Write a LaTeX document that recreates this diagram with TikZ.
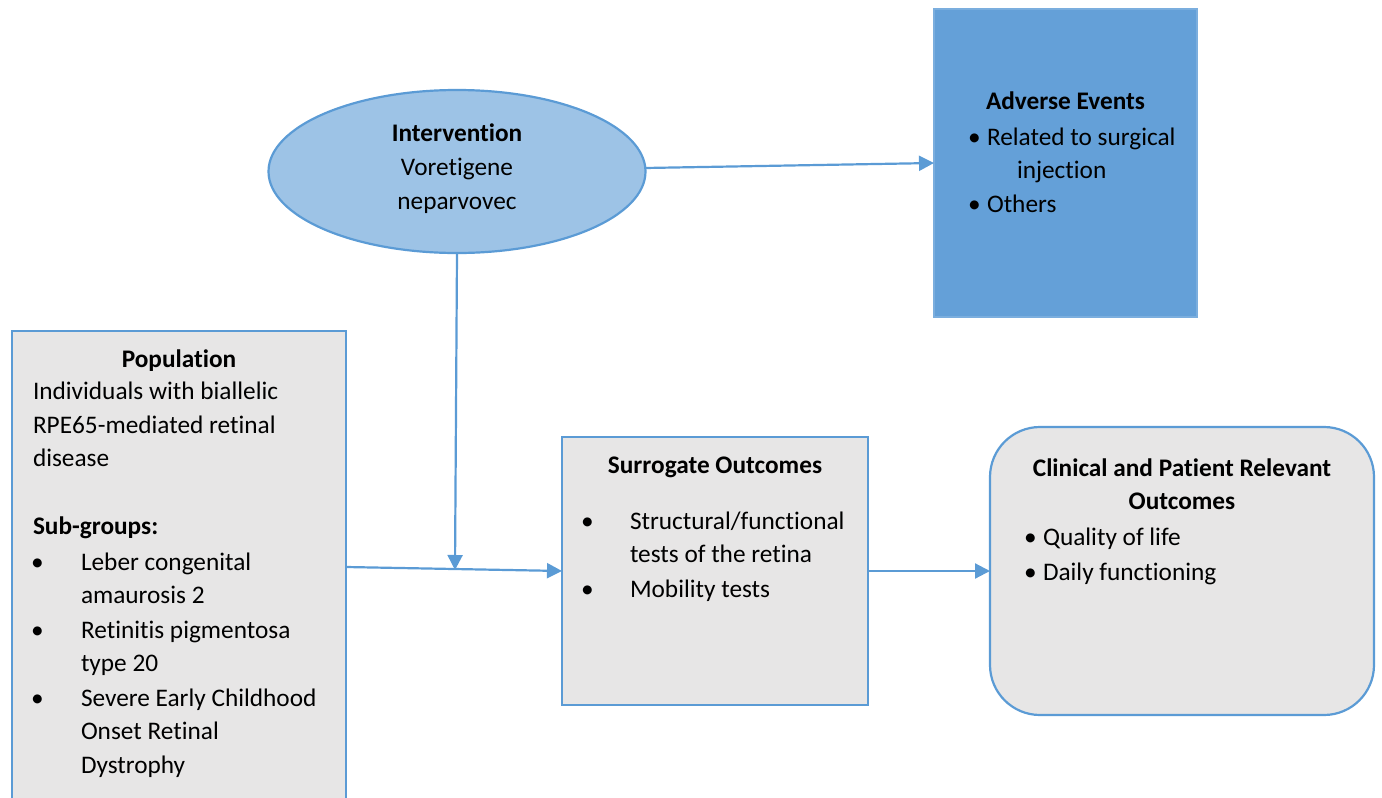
\documentclass[tikz,border=0pt]{standalone}
\usepackage{fontspec}
\setmainfont[RawFeature=-liga]{Carlito}
\usetikzlibrary{shapes.geometric,arrows.meta}
\definecolor{edgeblue}{HTML}{5B9BD5}
\definecolor{ellfill}{HTML}{9DC3E6}
\definecolor{aefill}{HTML}{64A0D8}
\definecolor{grayfill}{HTML}{E7E6E6}
\tikzset{
  boxstyle/.style={draw=edgeblue, line width=2.2pt, fill=grayfill, anchor=north west, inner sep=0pt, outer sep=0pt},
  txt/.style={anchor=base west, inner sep=0pt, outer sep=0pt},
  ttl/.style={anchor=base, inner sep=0pt, outer sep=0pt, font=\fontsize{25.3}{33}\selectfont\bfseries},
  arr/.style={draw=edgeblue, line width=2.2pt, -{Triangle[length=15pt,width=15pt]}},
}
\begin{document}
\begin{tikzpicture}[x=1pt,y=-1pt, font=\fontsize{25.3}{33}\selectfont]
\useasboundingbox (0,0) rectangle (1382,798);
\clip (0,0) rectangle (1382,798);

% Intervention ellipse
\node[ellipse, draw=edgeblue, line width=2.2pt, fill=ellfill, minimum width=377pt, minimum height=163pt, inner sep=0pt, outer sep=0pt] (ell) at (457,171.5) {};
\node[ttl] (ellt) at (457,141) {Intervention};
\node[anchor=base, inner sep=0pt] (ell1) at (457,175) {Voretigene};
\node[anchor=base, inner sep=0pt] (ell2) at (457,209) {neparvovec};

% Adverse events
\node[boxstyle, fill=aefill, draw=aefill!85!white, minimum width=263pt, minimum height=308pt] (ae) at (934,9) {};
\node[ttl] (aet) at (1065.5,109) {Adverse Events};
\node[txt] (aeb1) at (968,145) {•};
\node[txt] (ae1) at (987,145) {Related to surgical};
\node[txt] (ae2) at (1017,178) {injection};
\node[txt] (aeb2) at (968,212) {•};
\node[txt] (ae3) at (987,212) {Others};

% Population
\node[boxstyle, minimum width=334pt, minimum height=500pt] (pop) at (12,331) {};
\node[ttl] (popt) at (179,367) {Population};
\node[txt] (p1) at (33,399) {Individuals with biallelic};
\node[txt] (p2) at (33,433) {RPE65-mediated retinal};
\node[txt] (p3) at (33,466) {disease};
\node[txt, font=\fontsize{25.3}{33}\selectfont\bfseries] (p4) at (33,534) {Sub-groups:};
\node[txt] (pb1) at (31,570) {•};
\node[txt] (p5) at (81,570) {Leber congenital};
\node[txt] (p6) at (81,603) {amaurosis 2};
\node[txt] (pb2) at (31,638) {•};
\node[txt] (p7) at (81,638) {Retinitis pigmentosa};
\node[txt] (p8) at (81,671) {type 20};
\node[txt] (pb3) at (31,706) {•};
\node[txt] (p9) at (81,706) {Severe Early Childhood};
\node[txt] (p10) at (81,739) {Onset Retinal};
\node[txt] (p11) at (81,773) {Dystrophy};

% Surrogate outcomes
\node[boxstyle, minimum width=306pt, minimum height=268pt] (sur) at (562,437) {};
\node[ttl] (surt) at (715,473) {Surrogate Outcomes};
\node[txt] (sb1) at (581,529) {•};
\node[txt] (s1) at (630,529) {Structural/functional};
\node[txt] (s2) at (630,562) {tests of the retina};
\node[txt] (sb2) at (581,597) {•};
\node[txt] (s3) at (630,597) {Mobility tests};

% Clinical outcomes
\node[boxstyle, rounded corners=50pt, minimum width=384pt, minimum height=288pt] (cli) at (990,427) {};
\node[ttl] (clit1) at (1182,476) {Clinical and Patient Relevant};
\node[ttl] (clit2) at (1182,509) {Outcomes};
\node[txt] (cb1) at (1024,545) {•};
\node[txt] (c1) at (1043,545) {Quality of life};
\node[txt] (cb2) at (1024,580) {•};
\node[txt] (c2) at (1043,580) {Daily functioning};

% Connectors
\coordinate (ellout) at (645,168);
\coordinate (ellbot) at (457,253);
\coordinate (join) at (455,570);
\coordinate (popout) at (346,567);
\draw[arr] (ellout) -- (ae.west);
\draw[arr] (ellbot) -- (join);
\draw[arr] (popout) -- (sur.west);
\draw[arr] (sur.east) -- (cli.west);
\end{tikzpicture}
\end{document}
